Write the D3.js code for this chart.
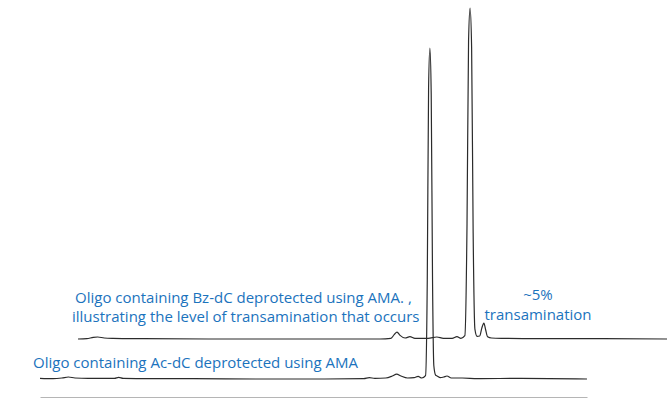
<!DOCTYPE html>
<meta charset="utf-8">
<head>
<script src="https://d3js.org/d3.v7.min.js"></script>
<style>
  body { margin: 0; background: #fff; }
  .trace { fill: none; stroke: #2b2b2b; stroke-width: 1.2; stroke-linejoin: round; }
  .base path { stroke: #b5b5b5; stroke-width: 1.2; }
  .label { font-family: "Open Sans", sans-serif; font-size: 15px; fill: #1b73bd; }
</style>
</head>
<body>
<svg width="667" height="400"></svg>
<script>

// retention time (min) and absorbance (% of main peak)
var acTime = [0, 0.6, 1.0, 1.3, 1.6, 2.2, 3.4, 3.6, 3.8, 5, 7, 10, 13, 14.8, 15.05, 15.3, 15.8, 16.1, 16.3, 16.5, 16.8, 17.1, 17.28, 17.45,
              17.62, 17.7, 17.76, 17.82, 17.88, 17.94, 18.0, 18.08, 18.15, 18.3, 18.45, 18.6, 18.8, 19.3, 20, 22, 25];
var acAbs  = [0.2, 0.1, 0.3, 0.6, 0.3, 0.2, 0.2, 0.5, 0.2, 0.1, 0.1, 0, 0, 0.1, 0.4, 0.2, 0.3, 0.9, 1.5, 0.9, 0.3, 0.4, 0.8, 0.3,
              1.0, 30, 88, 100, 86, 30, 4, 1.2, 0.9, 0.4, 0.6, 0.9, 0.3, 0.3, 0.1, 0.2, 0];

var bzTime = [0, 0.4, 0.7, 0.9, 1.2, 1.6, 3, 6, 10, 13.8, 14.3, 14.45, 14.58, 14.72, 14.95, 15.17, 15.4, 16.0, 16.4, 16.7, 17.1, 17.32, 17.5,
              17.68, 17.78, 17.85, 17.92, 17.99, 18.06, 18.14, 18.24, 18.36, 18.46, 18.55, 18.63, 18.72, 18.9, 19.5, 21, 24, 27];
var bzAbs  = [0, 0.1, 0.5, 0.6, 0.3, 0.2, 0.1, 0, 0, 0, 0.2, 1.3, 2.1, 1.1, 0.3, 0.7, 0.2, 0.2, 0.6, 0.2, 0.2, 0.7, 0.2,
              1.0, 35, 90, 100, 88, 32, 3, 0.8, 0.9, 3.4, 4.8, 2.8, 0.7, 0.3, 0.2, 0.1, 0.1, 0];

var labelAc  = "Oligo containing Ac-dC deprotected using AMA";
var labelBz  = ["Oligo containing Bz-dC deprotected using AMA. ,", "illustrating the level of transamination that occurs"];
var labelTa  = ["~5%", "transamination"];

var svg = d3.select("svg");

// lower trace sits on the baseline, upper one is stacked up and to the right
var x = d3.scaleLinear().domain([0, 25]).range([40, 587]),
    y = d3.scaleLinear().domain([0, 100]).range([379, 48]),
    offX = 38, offY = -40;

var line = d3.line()
    .x(function(d) { return x(d[0]); })
    .y(function(d) { return y(d[1]); })
    .curve(d3.curveMonotoneX);

svg.append("g")
    .attr("class", "base")
    .attr("transform", "translate(0,397)")
    .call(d3.axisBottom(x).ticks(0).tickSizeOuter(0))
    .selectAll("text").remove();

svg.append("path")
    .attr("class", "trace")
    .attr("d", line(d3.zip(acTime, acAbs)));

svg.append("path")
    .attr("class", "trace")
    .attr("transform", "translate(" + offX + "," + offY + ")")
    .attr("d", line(d3.zip(bzTime, bzAbs)));

svg.append("text")
    .attr("class", "label")
    .attr("x", 33).attr("y", 368)
    .text(labelAc);

svg.selectAll(".bz")
    .data(labelBz)
    .enter().append("text")
    .attr("class", "label")
    .attr("x", function(d, i) { return i ? 72 : 75; })
    .attr("y", function(d, i) { return 303 + i * 19; })
    .text(function(d) { return d; });

svg.selectAll(".ta")
    .data(labelTa)
    .enter().append("text")
    .attr("class", "label")
    .attr("text-anchor", "middle")
    .attr("x", 538)
    .attr("y", function(d, i) { return 300 + i * 20; })
    .text(function(d) { return d; });

</script>
</body>
